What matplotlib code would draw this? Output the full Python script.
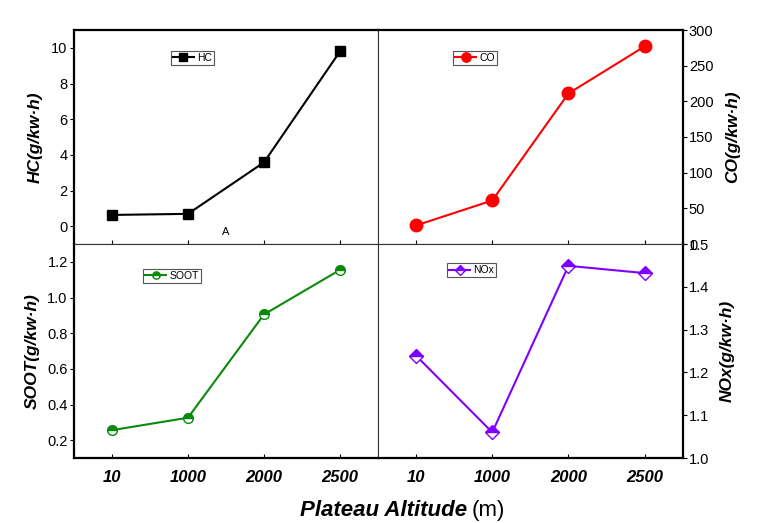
import matplotlib
matplotlib.use("Agg")
import matplotlib.pyplot as plt
import numpy as np

plt.rcParams['font.family'] = ['Liberation Sans', 'DejaVu Sans']

altitudes = ['10', '1000', '2000', '2500']
hc = [0.63, 0.69, 3.58, 9.8]
co = [26, 61, 211, 277]
soot = [0.256, 0.326, 0.905, 1.155]
nox = [1.239, 1.060, 1.449, 1.432]

hc_ticks = [0, 2, 4, 6, 8, 10]
co_ticks = [0, 50, 100, 150, 200, 250, 300]
soot_ticks = [0.2, 0.4, 0.6, 0.8, 1.0, 1.2]
nox_ticks = [1.0, 1.1, 1.2, 1.3, 1.4, 1.5]

W, H = 757, 523
fig = plt.figure(figsize=(W / 100, H / 100), dpi=100)

L, M, R = 74 / W, 378 / W, 682.7 / W
T, C, B = 1 - 30 / H, 1 - 244 / H, 1 - 458 / H

ax_hc = fig.add_axes([L, C, M - L, T - C])
ax_co = fig.add_axes([M, C, R - M, T - C])
ax_soot = fig.add_axes([L, B, M - L, C - B])
ax_nox = fig.add_axes([M, B, R - M, C - B])

x = np.arange(len(altitudes))
thick = 1.6
thin = 0.8
gray = '#333333'

def style(ax, outer):
    for side in ['left', 'right', 'top', 'bottom']:
        sp = ax.spines[side]
        if side in outer:
            sp.set_linewidth(thick)
            sp.set_color('black')
        else:
            sp.set_linewidth(thin)
            sp.set_color(gray)
    ax.set_xlim(-0.5, 3.5)
    ax.set_xticks(x)
    ax.tick_params(axis='x', direction='in', length=3, width=0.8)

style(ax_hc, ['left', 'top'])
style(ax_co, ['right', 'top'])
style(ax_soot, ['left', 'bottom'])
style(ax_nox, ['right', 'bottom'])

lw = 1.5
ax_hc.plot(x, hc, color='black', lw=lw, marker='s', ms=7, label='HC')
ax_co.plot(x, co, color='#FF0000', lw=lw, marker='o', ms=9, label='CO')
ax_soot.plot(x, soot, color='#0A8A0A', lw=lw, marker='o', ms=7, fillstyle='top',
             markerfacecoloralt='white', mew=1.0, label='SOOT')
ax_nox.plot(x, nox, color='#7F00FF', lw=lw, marker='D', ms=7, fillstyle='top',
            markerfacecoloralt='white', mew=1.0, label='NOx')

ax_hc.set_ylim(-1, 11)
ax_hc.set_yticks(hc_ticks)
ax_co.set_ylim(0, 300)
ax_co.set_yticks(co_ticks)
ax_soot.set_ylim(0.1, 1.3)
ax_soot.set_yticks(soot_ticks)
ax_soot.set_yticklabels([f'{v:.1f}' for v in soot_ticks])
ax_nox.set_ylim(1.0, 1.5)
ax_nox.set_yticks(nox_ticks)
ax_nox.set_yticklabels([f'{v:.1f}' for v in nox_ticks])

for ax in (ax_co, ax_nox):
    ax.yaxis.tick_right()
    ax.yaxis.set_label_position('right')
for ax in (ax_hc, ax_co, ax_soot, ax_nox):
    ax.tick_params(axis='y', direction='out', length=3, width=0.8, pad=1.5, labelsize=10.5)

for ax in (ax_hc, ax_co):
    ax.tick_params(axis='x', labelbottom=False)
for ax in (ax_soot, ax_nox):
    ax.set_xticklabels(altitudes, fontsize=12, fontweight='bold', fontstyle='italic')
    ax.tick_params(axis='x', pad=9)

lab = dict(fontsize=12.5, fontweight='bold', fontstyle='italic')
ax_hc.set_ylabel('HC(g/kw·h)', **lab)
ax_hc.yaxis.set_label_coords(-0.102, 0.5)
ax_co.set_ylabel('CO(g/kw·h)', rotation=90, **lab)
ax_co.yaxis.set_label_coords(1.14, 0.5)
ax_soot.set_ylabel('SOOT(g/kw·h)', **lab)
ax_soot.yaxis.set_label_coords(-0.112, 0.5)
ax_nox.set_ylabel('NOx(g/kw·h)', rotation=90, **lab)
ax_nox.yaxis.set_label_coords(1.123, 0.5)

ax_hc.text(1.5, -0.33, 'A', fontsize=8, ha='center', va='center')

def leg(ax, ax_x, ax_y):
    lg = ax.legend(loc='upper left', bbox_to_anchor=(ax_x, ax_y), fontsize=7.5,
                   frameon=True, fancybox=False, edgecolor='#555555', framealpha=1,
                   borderpad=0.2, borderaxespad=0, handlelength=2.0,
                   handletextpad=0.3, markerscale=0.75)
    lg.get_frame().set_linewidth(0.8)

leg(ax_hc, 0.318, 0.902)
leg(ax_co, 0.247, 0.902)
leg(ax_soot, 0.228, 0.883)
leg(ax_nox, 0.227, 0.91)

yb = 1 - 516 / H
fig.text(467 / W, yb, 'Plateau Altitude', fontsize=16, fontweight='bold',
         fontstyle='italic', ha='right', va='baseline')
fig.text(472 / W, yb, '(m)', fontsize=16, ha='left', va='baseline')

fig.savefig('out.png', dpi=100)
